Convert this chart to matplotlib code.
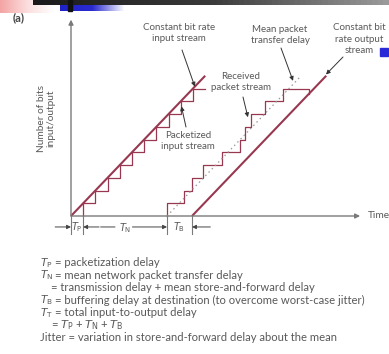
"""Packet voice/video delay diagram: constant bit rate stream through a packet network."""
import matplotlib.pyplot as plt
import numpy as np

# time in packetization intervals, bits in packets
INPUT_T = [0.0, 11.0]
INPUT_BITS = [0.0, 11.0]
PACKET_TIMES = [1, 2, 3, 4, 5, 6, 7, 8, 9, 10]
PACKET_END = 11.0
RECEIVED_TIMES = [7.87, 9.26, 9.92, 10.82, 12.38, 13.85, 14.26, 14.75, 15.90, 17.38]
RECEIVED_END = 19.5
T_P = 1.0
T_N = 6.87
T_B = 2.05

LEGEND_SYMBOLS = [r"$T_\mathrm{P}$", r"$T_\mathrm{N}$", "", r"$T_\mathrm{B}$", r"$T_\mathrm{T}$", "", ""]
LEGEND_TEXT = [
    "= packetization delay",
    "= mean network packet transfer delay",
    "= transmission delay + mean store-and-forward delay",
    "= buffering delay at destination (to overcome worst-case jitter)",
    "= total input-to-output delay",
    r"= $T_\mathrm{P}$ + $T_\mathrm{N}$ + $T_\mathrm{B}$",
    "Jitter = variation in store-and-forward delay about the mean",
]

LINE = "#983850"
AXIS = "#7a7a7a"
TXT = "#595959"
plt.rcParams["font.family"] = ["Lato", "DejaVu Sans"]
plt.rcParams["mathtext.fontset"] = "dejavusans"
cmap = plt.matplotlib.colors.LinearSegmentedColormap.from_list


def staircase(times, end, drop=0.0):
    xs, ys = [times[0]], [0]
    for k, t in enumerate(times):
        xs += [t, t]
        ys += [k, k + 1]
    xs.append(end)
    ys.append(len(times))
    if drop:
        xs.append(end)
        ys.append(len(times) - drop)
    return xs[1:], ys[1:]


fig = plt.figure(figsize=(3.89, 3.54), dpi=100)

# pixel-space layer for slide decoration and labels
pax = fig.add_axes([0, 0, 1, 1])
pax.axis("off")
grad = np.linspace(0, 1, 64)[None, :]
pax.imshow(grad, extent=(0, 55, 13, 0), cmap=cmap("pk", ["#f4a4a4", "#fbdede", "#ffffff"]), aspect="auto")
pax.imshow(grad, extent=(60, 125, 11, 0), cmap=cmap("bl", ["#1f22c8", "#2a2ad0", "#ffffff"]), aspect="auto")
pax.imshow(grad, extent=(33, 389, 5, 0), cmap=cmap("bk", ["#1a1a1a", "#3a3a3a", "#9a9a9a"]), aspect="auto")
pax.add_patch(plt.Rectangle((68, 0), 4, 11, color="#111111"))
pax.add_patch(plt.Rectangle((380, 48), 8, 8, color="#2a2ad8"))
pax.set_xlim(0, 389)
pax.set_ylim(354, 0)

# data layer: 1 interval = 12.2 px, 1 packet = 12.75 px, origin at (71, 216)
ax = fig.add_axes([0, 0, 1, 1])
ax.patch.set_alpha(0)
ax.set_xlim(-71 / 12.2, (389 - 71) / 12.2)
ax.set_ylim((216 - 354) / 12.75, 216 / 12.75)
ax.axis("off")

arrow_kw = dict(arrowstyle="-|>", color=AXIS, lw=1.0, mutation_scale=7, shrinkA=0, shrinkB=0)
ax.annotate("", xy=(23.7, 0), xytext=(0, 0), arrowprops=arrow_kw)
ax.annotate("", xy=(0, 15.4), xytext=(0, 0), arrowprops=arrow_kw)

t_in = np.array(INPUT_T)
ax.plot(t_in, INPUT_BITS, color=LINE, lw=1.5, solid_capstyle="butt")
px_, py_ = staircase(PACKET_TIMES, PACKET_END)
ax.plot(px_, py_, color=LINE, lw=0.9)
rx, ry = staircase(RECEIVED_TIMES, RECEIVED_END, drop=0.4)
ax.plot(rx, ry, color=LINE, lw=0.9)
ax.plot(t_in + T_P + T_N, INPUT_BITS, color="#9a9a9a", lw=0.9, ls=(0, (1.2, 2.5)))
ax.plot(t_in + T_P + T_N + T_B, INPUT_BITS, color=LINE, lw=1.5, solid_capstyle="butt")

# delay markers under the time axis
bounds = np.cumsum([0, T_P, T_N, T_B])
for b in bounds:
    ax.plot([b, b], [0, -1.45], color=AXIS, lw=0.8)
ym = -0.86
mk = dict(arrowstyle="-|>", color="#444444", lw=0.7, mutation_scale=6, shrinkA=0, shrinkB=0)
ax.annotate("", xy=(bounds[0], ym), xytext=(bounds[0] - 1.3, ym), arrowprops=mk)
ax.annotate("", xy=(bounds[1], ym), xytext=(bounds[1] + 1.3, ym), arrowprops=mk)
mid_n = (bounds[1] + bounds[2]) / 2
ax.annotate("", xy=(bounds[1] + 1.2, ym), xytext=(mid_n - 0.6, ym),
            arrowprops=dict(arrowstyle="-", color="#444444", lw=0.7))
ax.annotate("", xy=(bounds[2], ym), xytext=(mid_n + 0.6, ym), arrowprops=mk)
ax.annotate("", xy=(bounds[3], ym), xytext=(bounds[3] + 1.5, ym), arrowprops=mk)
lab = dict(ha="center", va="center", fontsize=7, color=TXT)
ax.text((bounds[0] + bounds[1]) / 2, ym, r"$T_\mathrm{P}$", **lab)
ax.text(mid_n, ym - 0.1, r"$T_\mathrm{N}$", **lab)
ax.text((bounds[2] + bounds[3]) / 2, ym, r"$T_\mathrm{B}$", **lab)

# labels (pixel positions) with pointer arrows onto the data
ptr = dict(arrowstyle="-|>", color="#333333", lw=0.7, mutation_scale=6, shrinkA=0, shrinkB=0)
tk = dict(ha="center", va="center", fontsize=7, color=TXT, linespacing=1.4)
pax.text(179, 33, "Constant bit rate\ninput stream", **tk)
pax.text(188, 141, "Packetized\ninput stream", **tk)
pax.text(241, 82, "Received\npacket stream", **tk)
pax.text(280, 35, "Mean packet\ntransfer delay", **tk)
pax.text(359, 39, "Constant bit\nrate output\nstream", **tk)
for tip, tail in [((10.15, 10.15), (182, 50)), ((9.05, 8.6), (186, 127)),
                  ((14.5, 7.75), (243, 97)), ((18.2, 10.6), (281, 48)),
                  ((20.9, 11.1), (343, 57))]:
    ax.annotate("", xy=tip, xytext=tail, textcoords=pax.transData, arrowprops=ptr)

pax.text(368, 216, "Time", ha="left", va="center", fontsize=7.3, color=TXT)
pax.text(46, 118, "Number of bits\ninput/output", rotation=90, ha="center", va="center",
         fontsize=7.3, color=TXT, linespacing=1.1)
pax.text(13, 18, "(a)", ha="left", va="center", fontsize=8, fontweight="bold", color="#444444")

for i, (sym, txt) in enumerate(zip(LEGEND_SYMBOLS, LEGEND_TEXT)):
    y = 263 + i * 12.4
    if sym:
        pax.text(40, y, sym, ha="left", va="center", fontsize=7.6, color=TXT)
    x = 40 if txt.startswith("Jitter") else (55 if sym else 51)
    pax.text(x, y, txt, ha="left", va="center", fontsize=8.1, color=TXT)

fig.savefig("out.png", dpi=100)
